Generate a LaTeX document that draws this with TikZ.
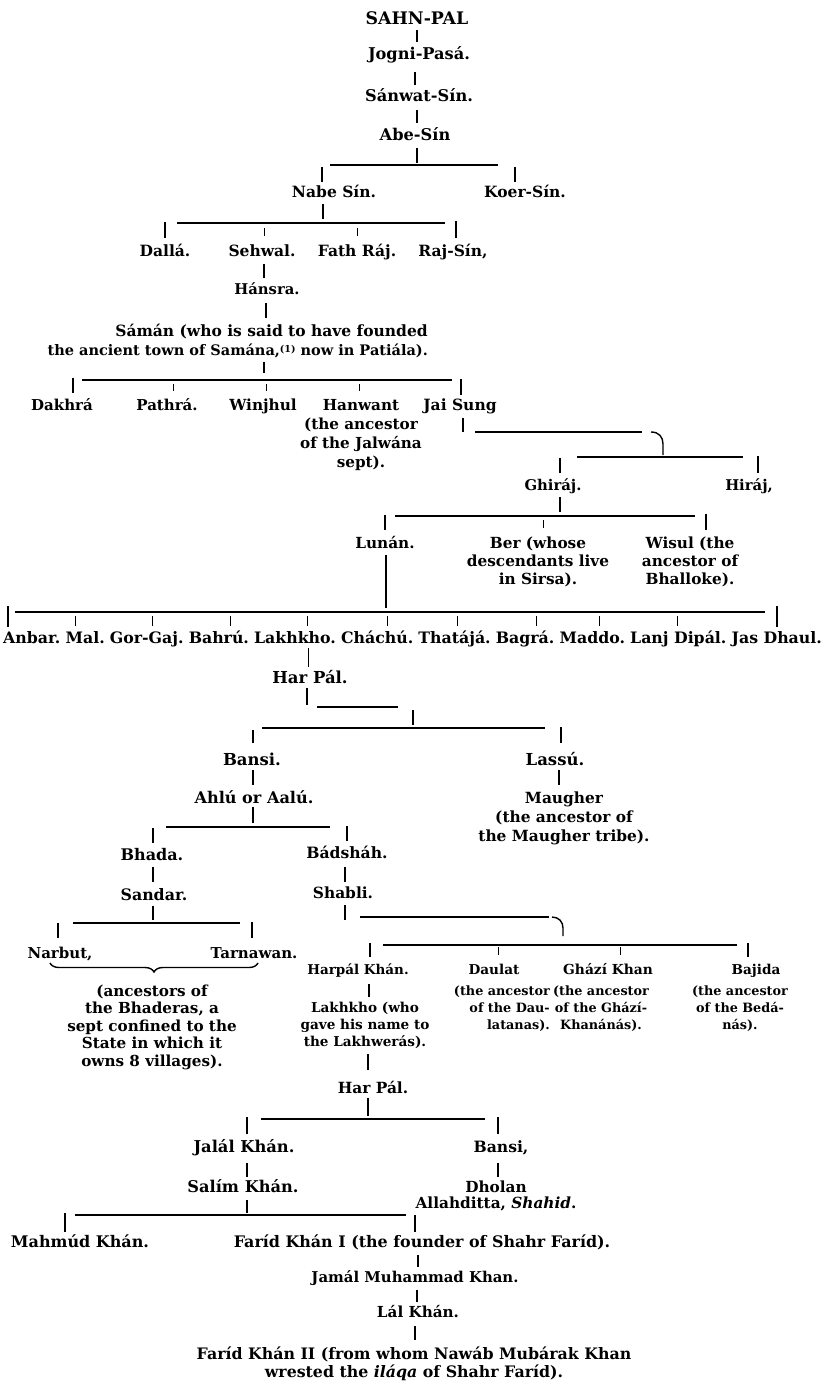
\documentclass[tikz,border=0pt]{standalone}
\usepackage{fontspec}
\setmainfont{DejaVu Serif}
\usetikzlibrary{decorations.pathreplacing}
\newcommand\ml[2][c]{\begin{tabular}[t]{@{}#1@{}}#2\end{tabular}}
\newcommand\one{{\fontsize{9.5}{9.5}\selectfont\raisebox{3pt}{(1)}}}
\tikzset{
  nm/.style={inner sep=0pt, anchor=base, font=\fontsize{15.5}{18}\selectfont\bfseries},
  f/.style args={#1/#2}{font=\fontsize{#1}{#2}\selectfont\bfseries},
  tk/.style={line width=1.8pt},
  tks/.style={line width=1pt},
  hl/.style={line width=1.4pt},
}
\newcommand\rw[3]{\node[nm,f=15.75/18,anchor=base west] (#1) at ([xshift=4.8pt]#2.base east) {#3};}
\begin{document}
\begin{tikzpicture}[x=1pt,y=-1pt]
\useasboundingbox (0,0) rectangle (827,1388);
\fill[white] (0,0) rectangle (827,1388);

% ---------- top line ----------
\node[nm,f=17.3/18] (sahn) at (417,25) {SAHN-PAL};
\node[nm,f=16.2/18] (jogni) at (419,60) {Jogni-Pasá.};
\node[nm,f=16.2/18] (sanwat) at (419,102) {Sánwat-Sín.};
\node[nm,f=16.2/18] (abe) at (415,141) {Abe-Sín};
\node[nm] (nabe) at (334,198) {Nabe Sín.};
\node[nm] (koer) at (525,198) {Koer-Sín.};
\draw[tk] (417,30) -- (417,42);
\draw[tk] (415,72) -- (415,85);
\draw[tk] (417,110) -- (417,123);
\draw[tk] (417,148) -- (417,163);
\draw[hl] (330,165) -- (498,165);
\draw[tk] (322,167) -- (322,182);
\draw[tk] (515,167) -- (515,182);

% ---------- Nabe's sons ----------
\node[nm] (dalla) at (165,256) {Dallá.};
\node[nm] (sehwal) at (262,256) {Sehwal.};
\node[nm] (fath) at (357,256) {Fath Ráj.};
\node[nm] (raj) at (453,256) {Raj-Sín,};
\draw[tk] (323,204) -- (323,219);
\draw[hl] (177,223) -- (445,223);
\draw[tk] (165,222) -- (165,238);
\draw[tks] (264,228) -- (264,236);
\draw[tks] (357,228) -- (357,236);
\draw[tk] (456,221) -- (456,238);
\draw[tk] (264,264) -- (264,278);
\node[nm,f=14.8/18] (hansra) at (267,294) {Hánsra.};
\draw[tk] (266,303) -- (266,318);
\node[nm,anchor=base east,f=14.5/19.5] (saman) at (428,336)
  {\ml[r]{{\fontsize{15.5}{19.5}\selectfont Sámán (who is said to have founded}\hspace{12pt}\\the ancient town of Samána,\one{} now in Patiála).}};

% ---------- Saman's sons ----------
\draw[tk] (264,362) -- (264,373);
\draw[hl] (82,380) -- (452,380);
\draw[tk] (73,378) -- (73,393);
\draw[tks] (173,384) -- (173,391);
\draw[tks] (266,384) -- (266,391);
\draw[tks] (359,384) -- (359,391);
\draw[tk] (461,379) -- (461,395);
\node[nm,f=15/18] (dakhra) at (62,410) {Dakhrá};
\node[nm,f=15/18] (pathra) at (167,410) {Pathrá.};
\node[nm,f=15.3/18] (winjhul) at (263,410) {Winjhul};
\node[nm,f=15.2/19] (hanwant) at (361,410) {\ml{Hanwant\\(the ancestor\\of the Jalwána\\sept).}};
\node[nm,f=15.5/18] (jai) at (460,410) {Jai Sung};

% ---------- Jai Sung's sons ----------
\draw[tk] (463,418) -- (463,432);
\draw[hl] (475,432) -- (642,432);
\draw[hl] (651,432) .. controls (659,432) and (663,437) .. (663,444) -- (663,455);
\draw[hl] (577,457) -- (743,457);
\draw[tk] (560,458) -- (560,473);
\draw[tk] (758,456) -- (758,473);
\node[nm,f=14.8/18] (ghiraj) at (553,490) {Ghiráj.};
\node[nm,f=14.8/18] (hiraj) at (749,490) {Hiráj,};

% ---------- Ghiraj's sons ----------
\draw[tk] (560,497) -- (560,512);
\draw[hl] (395,516) -- (695,516);
\draw[tk] (385,515) -- (385,530);
\draw[tks] (543,520) -- (543,528);
\draw[tk] (706,514) -- (706,530);
\node[nm,f=15.3/18] (lunan) at (385,548) {Lunán.};
\node[nm,f=15.3/18] (ber) at (538,548) {\ml{Ber (whose\\descendants live\\in Sirsa).}};
\node[nm,f=15.3/18] (wisul) at (690,548) {\ml{Wisul (the\\ancestor of\\Bhalloke).}};
\draw[tk] (386,555) -- (386,608);

% ---------- Lunan's sons ----------
\draw[hl] (15,612) -- (765,612);
\node[nm,f=15.75/18,anchor=base west] (anbar) at (3,643) {Anbar.};
\rw{mal}{anbar}{Mal.}
\rw{gorgaj}{mal}{Gor-Gaj.}
\rw{bahru}{gorgaj}{Bahrú.}
\rw{lakhkho}{bahru}{Lakhkho.}
\rw{chachu}{lakhkho}{Cháchú.}
\rw{thataja}{chachu}{Thatájá.}
\rw{bagra}{thataja}{Bagrá.}
\rw{maddo}{bagra}{Maddo.}
\rw{lanj}{maddo}{Lanj Dipál.}
\rw{jas}{lanj}{Jas Dhaul.}
\draw[tk] (8,606) -- (8,627);
\draw[tks] (75,616) -- (75,626);
\draw[tks] (152,616) -- (152,626);
\draw[tks] (230,616) -- (230,626);
\draw[tks] (307,616) -- (307,626);
\draw[tks] (387,616) -- (387,626);
\draw[tks] (457,616) -- (457,626);
\draw[tks] (536,616) -- (536,626);
\draw[tks] (599,616) -- (599,626);
\draw[tks] (677,616) -- (677,626);
\draw[tk] (777,606) -- (777,627);

% ---------- Har Pal ----------
\draw[tks] (308,648) -- (308,667);
\node[nm,f=16.5/18] (harpal) at (310,683) {Har Pál.};
\draw[tk] (307,688) -- (307,705);
\draw[hl] (317,707) -- (398,707);
\draw[tk] (413,710) -- (413,725);
\draw[hl] (262,728) -- (545,728);
\draw[tk] (253,730) -- (253,743);
\draw[tk] (561,727) -- (561,743);
\node[nm,f=16.5/18] (bansi) at (252,765) {Bansi.};
\node[nm,f=16.5/18] (lassu) at (555,765) {Lassú.};
\draw[tk] (253,770) -- (253,785);
\draw[tk] (559,770) -- (559,785);
\node[nm,f=16.1/18] (ahlu) at (254,803) {Ahlú or Aalú.};
\node[nm,f=15.4/19] (maugher) at (564,803) {\ml{Maugher\\(the ancestor of\\the Maugher tribe).}};

% ---------- Ahlu's sons ----------
\draw[tk] (253,807) -- (253,823);
\draw[hl] (166,827) -- (330,827);
\draw[tk] (153,828) -- (153,843);
\draw[tk] (347,826) -- (347,841);
\node[nm,f=16/18] (bhada) at (152,860) {Bhada.};
\node[nm,f=15.6/18] (badshah) at (347,858) {Bádsháh.};
\draw[tk] (153,867) -- (153,882);
\draw[tk] (345,867) -- (345,882);
\node[nm,f=15.8/18] (sandar) at (154,900) {Sandar.};
\node[nm,f=15.4/18] (shabli) at (343,898) {Shabli.};
\draw[tk] (153,906) -- (153,920);
\draw[tk] (345,905) -- (345,920);

% ---------- Sandar's sons ----------
\draw[hl] (73,923) -- (240,923);
\draw[tk] (58,923) -- (58,938);
\draw[tk] (252,922) -- (252,938);
\node[nm,f=15/18] (narbut) at (60,958) {Narbut,};
\node[nm,f=15/18] (tarnawan) at (254,958) {Tarnawan.};
\draw[hl,decorate,decoration={brace,amplitude=9pt,mirror}] (50,963) -- (258,963);
\node[nm,f=15.2/17.5] (bhadnote) at (152,996) {\ml{(ancestors of\\the Bhaderas, a\\sept confined to the\\State in which it\\owns 8 villages).}};

% ---------- Shabli's sons ----------
\draw[hl] (360,917) -- (549,917);
\draw[hl] (552,917) .. controls (559,917) and (563,922) .. (563,928) -- (563,936);
\draw[hl] (383,945) -- (737,945);
\draw[tk] (370,943) -- (370,957);
\draw[tks] (498,947) -- (498,955);
\draw[tks] (620,947) -- (620,955);
\draw[tk] (748,943) -- (748,957);
\node[nm,f=13.5/18] (harpalk) at (358,974) {Harpál Khán.};
\node[nm,f=13.6/18] (daulat) at (494,974) {Daulat};
\node[nm,f=13.8/18] (ghazi) at (608,974) {Ghází Khan};
\node[nm,f=13.6/18] (bajida) at (756,974) {Bajida};
\node[nm,anchor=base east,f=12.8/17] (daulatn) at (550,995) {\ml[r]{(the ancestor\\of the Dau-\\latanas).}};
\node[nm,f=12.8/17] (ghazin) at (601,995) {\ml{(the ancestor\\of the Ghází-\\Khanánás).}};
\node[nm,f=12.8/17] (bajidan) at (740,995) {\ml{(the ancestor\\of the Bedá-\\nás).}};
\draw[tk] (369,984) -- (369,997);
\node[nm,f=13.6/17] (lakhkhob) at (365,1012) {\ml{Lakhkho (who\\gave his name to\\the Lakhwerás).}};

% ---------- Har Pal (2) ----------
\draw[tk] (368,1054) -- (368,1070);
\node[nm,f=15.4/18] (harpalb) at (373,1093) {Har Pál.};
\draw[tk] (368,1098) -- (368,1116);
\draw[hl] (261,1119) -- (485,1119);
\draw[tk] (247,1117) -- (247,1134);
\draw[tk] (498,1117) -- (498,1134);
\node[nm,f=16.3/18] (jalal) at (244,1152) {Jalál Khán.};
\node[nm,f=15.6/18] (bansib) at (501,1152) {Bansi,};
\draw[tk] (247,1163) -- (247,1177);
\draw[tk] (498,1163) -- (498,1177);
\node[nm,f=16.2/18] (salim) at (243,1192) {Salím Khán.};
\node[nm,f=15.3/16] (dholan) at (496,1192) {\ml{Dholan\\Allahditta, \textit{Shahid}.}};

% ---------- Salim's sons ----------
\draw[tk] (247,1200) -- (247,1213);
\draw[hl] (75,1215) -- (406,1215);
\draw[tk] (65,1213) -- (65,1232);
\draw[tk] (415,1215) -- (415,1232);
\node[nm,f=16/18] (mahmud) at (80,1247) {Mahmúd Khán.};
\node[nm,f=15.9/18] (farida) at (422,1247) {Faríd Khán I (the founder of Shahr Faríd).};
\draw[tk] (418,1255) -- (418,1267);
\node[nm,f=14.9/18] (jamal) at (415,1282) {Jamál Muhammad Khan.};
\draw[tk] (417,1290) -- (417,1302);
\node[nm,f=15.2/18] (lal) at (418,1317) {Lál Khán.};
\draw[tk] (415,1326) -- (415,1340);
\node[nm,f=15.8/18] (faridb) at (414,1359) {\ml{Faríd Khán II (from whom Nawáb Mubárak Khan\\wrested the \textit{iláqa} of Shahr Faríd).}};
\end{tikzpicture}
\end{document}
